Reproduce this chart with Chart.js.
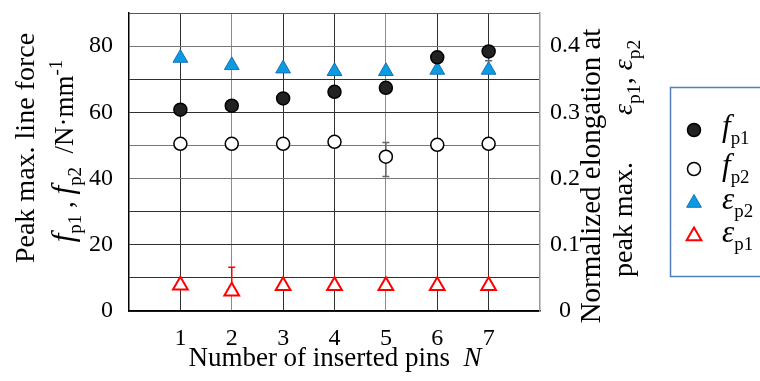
<!DOCTYPE html>
<html><head><meta charset="utf-8">
<script src="https://cdn.jsdelivr.net/npm/chart.js@4/dist/chart.umd.min.js"></script>
<style>html,body{margin:0;padding:0;background:#fff}#wrap{width:760px;height:381px;position:relative}</style>
</head><body><div id="wrap"><canvas id="c"></canvas></div>
<script>
// ---- data ----
const pins = [1, 2, 3, 4, 5, 6, 7];
const fp1 = [60.8, 62.0, 64.2, 66.2, 67.4, 76.6, 78.4];
const fp2 = [50.5, 50.5, 50.5, 51.1, 46.6, 50.2, 50.5];
const ep2 = [0.382, 0.371, 0.366, 0.362, 0.362, 0.364, 0.364];
const ep1 = [0.039, 0.030, 0.038, 0.038, 0.038, 0.038, 0.038];
// error bars [low, high]; null = none
const fp1Err = [null, null, null, null, null, null, [75.6, 80.0]];
const fp2Err = [null, null, null, null, [40.6, 50.9], null, null];
const ep1Err = [null, [0.028, 0.066], null, null, null, null, null];
const xTickLabels = [1, 2, 3, 4, 5, 6, 7];
const leftTickLabels = [0, 20, 40, 60, 80];
const rightTickLabels = [0, 0.1, 0.2, 0.3, 0.4];

const FONT = '"Liberation Serif", "Times New Roman", serif';
const pts = arr => pins.map((x, i) => ({x: x, y: arr[i]}));

function fontOf(s, base) {
  const size = (s.sub || s.sup) ? base * 0.7 : base * (s.scale || 1);
  return (s.it ? 'italic ' : '') + size + 'px ' + FONT;
}
function drawRich(ctx, segs, x, y, base, align) {
  let w = 0;
  segs.forEach(s => { ctx.font = fontOf(s, base); s.w = ctx.measureText(s.t).width; w += s.w; });
  let cx = align === 'center' ? x - w / 2 : x;
  ctx.textAlign = 'left';
  ctx.textBaseline = 'alphabetic';
  segs.forEach(s => {
    ctx.font = fontOf(s, base);
    const dy = s.sub ? base * 0.3 : (s.sup ? -base * 0.4 : 0);
    ctx.fillText(s.t, cx, y + dy);
    cx += s.w;
  });
}
function rotText(ctx, segs, x, y, base, align) {
  ctx.save();
  ctx.translate(x, y);
  ctx.rotate(-Math.PI / 2);
  drawRich(ctx, segs, 0, 0, base, align);
  ctx.restore();
}

const errorBars = {
  id: 'errorBars',
  beforeDatasetsDraw(chart) {
    const ctx = chart.ctx, xs = chart.scales.x;
    const draw = (errs, scale, color) => {
      errs.forEach((e, i) => {
        if (!e) return;
        const px = xs.getPixelForValue(pins[i]);
        const y1 = scale.getPixelForValue(e[0]), y2 = scale.getPixelForValue(e[1]);
        ctx.save();
        ctx.strokeStyle = color; ctx.lineWidth = 1.5;
        ctx.beginPath();
        ctx.moveTo(px, y1); ctx.lineTo(px, y2);
        ctx.moveTo(px - 3.5, y1); ctx.lineTo(px + 3.5, y1);
        ctx.moveTo(px - 3.5, y2); ctx.lineTo(px + 3.5, y2);
        ctx.stroke();
        ctx.restore();
      });
    };
    draw(fp1Err, chart.scales.y, '#666');
    draw(fp2Err, chart.scales.y, '#666');
    draw(ep1Err, chart.scales.y2, '#ff0000');
  }
};

const annotations = {
  id: 'annotations',
  afterDraw(chart) {
    const ctx = chart.ctx;
    ctx.save();
    ctx.fillStyle = '#000';
    // x title
    drawRich(ctx, [{t: 'Number of inserted pins  '}, {t: 'N', it: true}], 335, 366, 27, 'center');
    // left title
    rotText(ctx, [{t: 'Peak max. line force'}], 34, 148, 28, 'center');
    rotText(ctx, [{t: 'f', it: true, scale: 1.15}, {t: 'p1', sub: true}, {t: ' , '},
      {t: 'f', it: true, scale: 1.15}, {t: 'p2', sub: true}, {t: '  /N·mm'}, {t: '-1', sup: true}],
      73, 151, 27, 'center');
    // right title
    rotText(ctx, [{t: 'Normalized elongation at'}], 600, 176, 29, 'center');
    rotText(ctx, [{t: 'peak max.'}], 632, 277, 28, 'left');
    rotText(ctx, [{t: 'ε', it: true}, {t: 'p1', sub: true}, {t: ', '}, {t: 'ε', it: true}, {t: 'p2', sub: true}],
      632, 115, 28, 'left');
    // legend box
    ctx.strokeStyle = '#4f7fbf'; ctx.lineWidth = 1.5;
    ctx.strokeRect(670.5, 87.5, 120, 189);
    const H = Chart.helpers;
    const items = [
      {y: 130, style: 'circle', r: 6.5, fill: '#222', stroke: '#000', bw: 1.5, sym: 'f', sub: 'p1'},
      {y: 169, style: 'circle', r: 6.5, fill: '#fff', stroke: '#000', bw: 1.5, sym: 'f', sub: 'p2'},
      {y: 203, style: 'triangle', r: 8.5, fill: '#0a9be3', stroke: '#1a6fb3', bw: 1, sym: 'ε', sub: 'p2'},
      {y: 236, style: 'triangle', r: 8.5, fill: '#fff', stroke: '#ff0000', bw: 2, sym: 'ε', sub: 'p1'}
    ];
    items.forEach(it => {
      ctx.fillStyle = it.fill; ctx.strokeStyle = it.stroke; ctx.lineWidth = it.bw;
      H.drawPoint(ctx, {pointStyle: it.style, radius: it.r, rotation: 0, borderWidth: it.bw}, 694, it.y);
      ctx.fillStyle = '#000';
      drawRich(ctx, [{t: it.sym, it: true, scale: 1.15}, {t: it.sub, sub: true}], 722, it.y + 6, 27, 'left');
    });
    ctx.restore();
  }
};

const xGridColor = c => {
  const v = c.tick ? c.tick.value : null;
  if (v === 0 || v === 8) return 'rgba(0,0,0,0)';
  return (v === 2 || v === 5) ? '#8c8c8c' : '#303030';
};
const yGridColor = c => {
  const v = c.tick ? c.tick.value : null;
  if (v === 90) return '#555';
  return (v === 80 || v === 50 || v === 40) ? '#777' : '#303030';
};
const noPad = s => { s.paddingTop = 0; s.paddingBottom = 0; s.paddingLeft = 0; s.paddingRight = 0; };

new Chart(document.getElementById('c'), {
  type: 'scatter',
  data: {
    datasets: [
      {label: 'fp1', data: pts(fp1), yAxisID: 'y', order: 0, pointStyle: 'circle', pointRadius: 6.5,
        backgroundColor: '#222', borderColor: '#000', borderWidth: 1.5},
      {label: 'fp2', data: pts(fp2), yAxisID: 'y', order: 1, pointStyle: 'circle', pointRadius: 6.5,
        backgroundColor: '#fff', borderColor: '#000', borderWidth: 1.5},
      {label: 'ep2', data: pts(ep2), yAxisID: 'y2', order: 2, pointStyle: 'triangle', pointRadius: 8.5,
        backgroundColor: '#0a9be3', borderColor: '#1a6fb3', borderWidth: 1},
      {label: 'ep1', data: pts(ep1), yAxisID: 'y2', order: 3, pointStyle: 'triangle', pointRadius: 8.5,
        backgroundColor: '#fff', borderColor: '#ff0000', borderWidth: 2}
    ]
  },
  options: {
    responsive: true, maintainAspectRatio: false, animation: false,
    layout: {padding: {top: 13, left: 0, right: 0, bottom: 0}},
    plugins: {legend: {display: false}, tooltip: {enabled: false}},
    scales: {
      x: {
        type: 'linear', position: 'bottom', min: 0, max: 8,
        afterFit: s => { s.height = 70; noPad(s); },
        ticks: {stepSize: 1, padding: 13, autoSkip: false, maxRotation: 0, color: '#000', font: {family: FONT, size: 24},
          callback: v => xTickLabels.includes(v) ? String(v) : ''},
        grid: {drawTicks: false, color: xGridColor, lineWidth: 1},
        border: {color: '#000', width: 1.5}
      },
      y: {
        type: 'linear', position: 'left', min: 0, max: 90,
        afterFit: s => { s.width = 129; noPad(s); },
        ticks: {stepSize: 10, padding: 16, autoSkip: false, color: '#000', font: {family: FONT, size: 24},
          callback: v => leftTickLabels.includes(v) ? String(v) : ''},
        grid: {drawTicks: false, color: yGridColor, lineWidth: 1},
        border: {color: '#000', width: 1.5}
      },
      y2: {
        type: 'linear', position: 'right', min: 0, max: 0.45,
        afterFit: s => { s.width = 220; noPad(s); },
        ticks: {stepSize: 0.1, padding: 10, autoSkip: false, crossAlign: 'center', color: '#000', font: {family: FONT, size: 24},
          callback: v => {
            const m = rightTickLabels.find(t => Math.abs(t - v) < 1e-6);
            return m === undefined ? '' : (m === 0 ? '0' : m.toFixed(1));
          }},
        grid: {display: false, drawTicks: false},
        border: {color: '#999', width: 1.5}
      }
    }
  },
  plugins: [errorBars, annotations]
});
</script>
</body></html>
